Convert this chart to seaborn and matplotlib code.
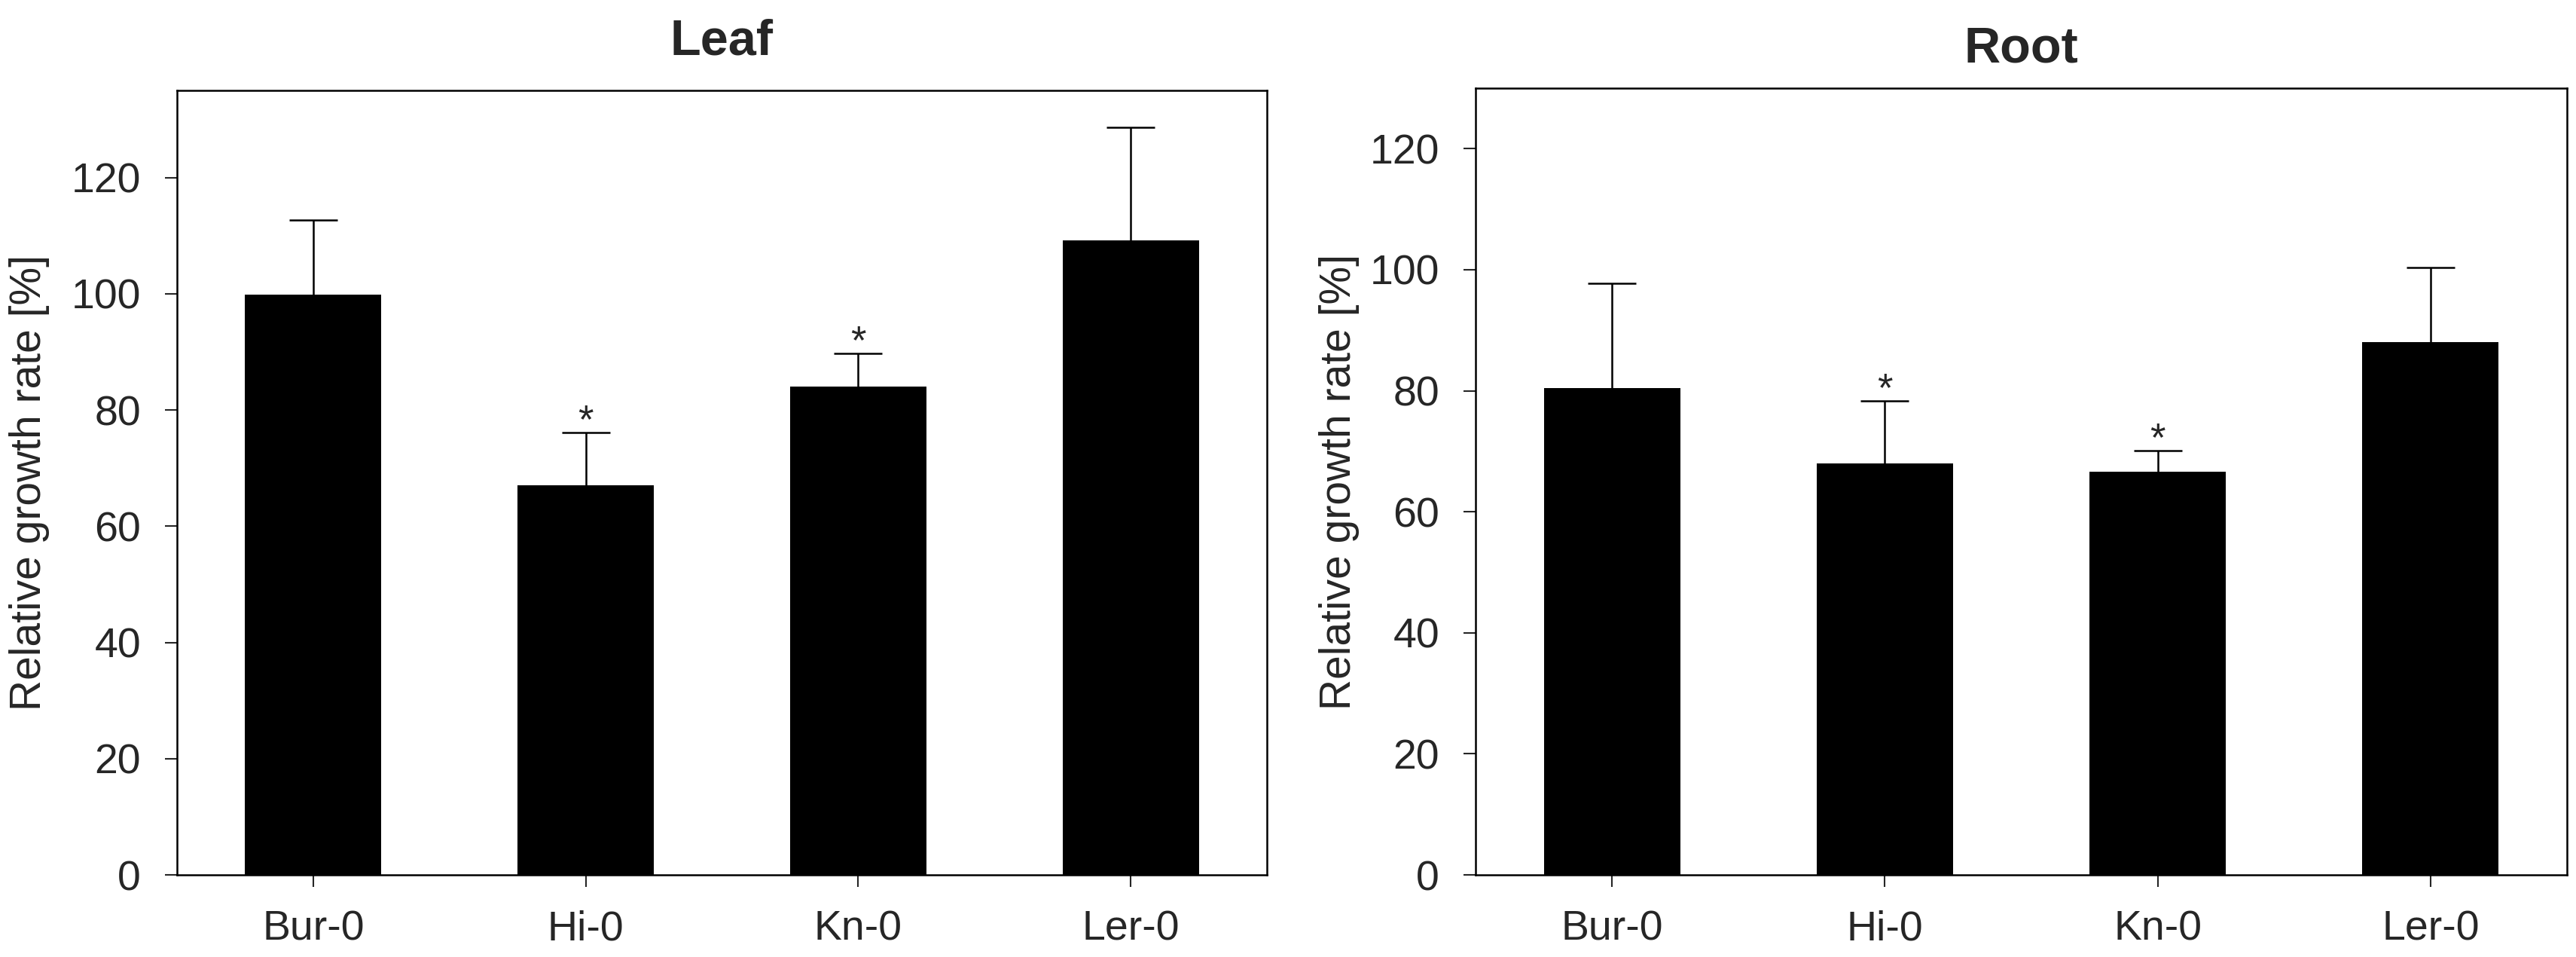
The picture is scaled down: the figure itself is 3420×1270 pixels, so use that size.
import numpy as np
import pandas as pd
import matplotlib
matplotlib.use("Agg")
import matplotlib.pyplot as plt
import seaborn as sns

# values
lines = ["Bur-0", "Hi-0", "Kn-0", "Ler-0"]
leaf_mean = [99.8, 67.1, 84.1, 109.2]
leaf_err = [12.9, 9.0, 5.7, 19.5]
leaf_sig = [False, True, True, False]
root_mean = [80.4, 68.0, 66.6, 88.0]
root_err = [17.4, 10.3, 3.5, 12.4]
root_sig = [False, True, True, False]

sns.set_style("white")
plt.rcParams['font.family'] = ['Liberation Sans', 'DejaVu Sans']
plt.rcParams['axes.linewidth'] = 1.8

fig = plt.figure(figsize=(34.2, 12.7), dpi=100)
ax_leaf = fig.add_axes([0.0687, 0.0858, 0.4231, 0.8197])
ax_root = fig.add_axes([0.5728, 0.0858, 0.4237, 0.8221])


def draw_panel(ax, title, means, errs, sig, ymax, title_pad, label_x):
    df = pd.DataFrame({'line': lines, 'rate': means})
    sns.barplot(data=df, x='line', y='rate', color='black', width=0.5,
                saturation=1, errorbar=None, ax=ax)
    for p in ax.patches:
        p.set_edgecolor('black')
        p.set_linewidth(0)
    x = np.arange(len(lines))
    # upper error bars only
    eb = ax.errorbar(x, means, yerr=[np.zeros(len(errs)), errs], fmt='none',
                     ecolor='black', elinewidth=1.8, capsize=23, capthick=1.8)
    eb[1][0].set_visible(False)
    for xi, m, e, s in zip(x, means, errs, sig):
        if s:
            ax.annotate('*', (xi, m + e), xytext=(0, 10), textcoords='offset points',
                        ha='center', va='center', fontsize=38)
    ax.set_xlim(-0.5, 3.5)
    ax.set_ylim(0, ymax)
    ax.set_yticks(range(0, 121, 20))
    ax.set_xlabel('')
    ax.set_ylabel('Relative growth rate [%]', fontsize=41)
    ax.yaxis.set_label_coords(label_x, 0.5)
    ax.set_title(title, fontsize=48, fontweight='bold', pad=title_pad)
    ax.tick_params(axis='both', which='major', direction='out', length=11.5,
                   width=1.5, labelsize=40, bottom=True, left=True,
                   top=False, right=False)
    ax.tick_params(axis='x', pad=22)
    ax.tick_params(axis='y', pad=23)
    for sp in ax.spines.values():
        sp.set_visible(True)
        sp.set_color('black')
        sp.set_linewidth(1.8)


draw_panel(ax_leaf, 'Leaf', leaf_mean, leaf_err, leaf_sig, 135, 34, -0.117)
draw_panel(ax_root, 'Root', root_mean, root_err, root_sig, 130, 25, -0.106)

fig.savefig('out.png', dpi=100, facecolor='white')
